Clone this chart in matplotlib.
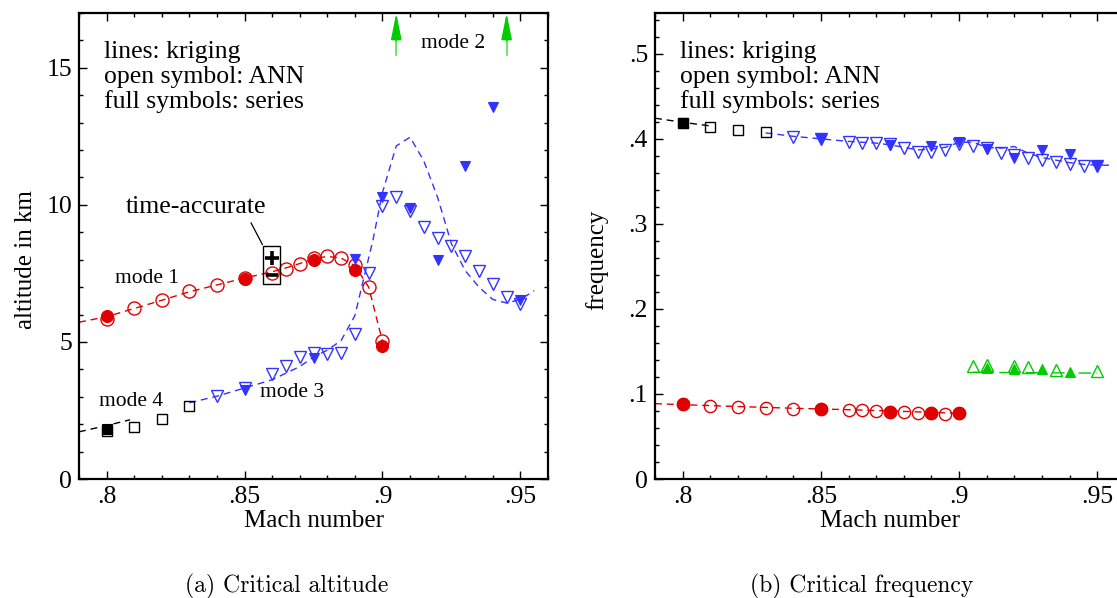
import matplotlib
matplotlib.use("Agg")
import matplotlib.pyplot as plt
from matplotlib.patches import Rectangle
from matplotlib.ticker import FixedLocator, MultipleLocator, FuncFormatter

plt.rcParams['font.family'] = ['Liberation Serif', 'DejaVu Serif']

RED = '#e00000'
BLUE = '#3333ff'
GREEN = '#00cc00'
LGREEN = '#55e055'

# ---------------- altitude (left) ----------------
m1_ann_mach = [.80, .81, .82, .83, .84, .85, .86, .865, .87, .875, .88, .885, .89, .895, .90]
m1_ann_alt = [5.82, 6.22, 6.53, 6.85, 7.08, 7.32, 7.52, 7.67, 7.84, 8.06, 8.15, 8.07, 7.80, 6.99, 5.02]
m1_ser_mach = [.80, .85, .875, .89, .90]
m1_ser_alt = [5.96, 7.30, 8.00, 7.62, 4.84]
m1_krig_mach = [.79, .80, .81, .82, .83, .84, .85, .86, .865, .87, .875, .88, .885, .89, .895, .90]
m1_krig_alt = [5.72, 5.92, 6.22, 6.52, 6.83, 7.08, 7.33, 7.56, 7.70, 7.86, 8.03, 8.12, 8.06, 7.78, 7.00, 5.02]

m3_ann_mach = [.84, .85, .86, .865, .87, .875, .88, .885, .89, .895, .90, .905, .91, .915,
               .92, .925, .93, .935, .94, .945, .95]
m3_ann_alt = [3.02, 3.32, 3.84, 4.13, 4.45, 4.60, 4.57, 4.60, 5.30, 7.53, 9.96, 10.27, 9.78, 9.20,
              8.81, 8.50, 8.12, 7.60, 7.12, 6.65, 6.39]
m3_ser_mach = [.85, .875, .89, .90, .91, .92, .93, .94, .95]
m3_ser_alt = [3.26, 4.42, 8.03, 10.29, 9.88, 8.00, 11.42, 13.56, 6.53]
m3_krig_mach = [.83, .84, .85, .86, .87, .875, .88, .885, .89, .8936, .8965, .90, .905, .91,
                .915, .92, .925, .93, .935, .94, .945, .95, .955]
m3_krig_alt = [2.78, 3.02, 3.32, 3.62, 4.10, 4.45, 4.70, 5.05, 5.96, 7.48, 8.69, 10.45, 12.15, 12.47,
               11.60, 10.27, 8.58, 7.60, 7.00, 6.55, 6.42, 6.55, 6.87]

m4_ann_mach = [.80, .81, .82, .83]
m4_ann_alt = [1.75, 1.88, 2.18, 2.65]
m4_ser_mach = [.80]
m4_ser_alt = [1.84]
m4_krig_mach = [.79, .80, .8085]
m4_krig_alt = [1.72, 1.95, 2.16]

m2_offscale_mach = [.905, .945]   # mode 2 lies above the plotted range

ta_mach = .86          # time-accurate check
ta_plus_alt = 8.06
ta_minus_alt = 7.45

# ---------------- frequency (right) ----------------
f1_ann_mach = [.80, .81, .82, .83, .84, .85, .86, .865, .87, .875, .88, .885, .89, .895, .90]
f1_ann = [.0879, .0859, .0843, .0835, .0824, .0820, .0812, .0808, .0800, .0788, .0784, .0776,
          .0773, .0765, .0773]
f1_ser_mach = [.80, .85, .875, .89, .90]
f1_ser = [.0879, .0820, .0788, .0773, .0773]
f1_krig_mach = [.79, .80, .82, .84, .86, .88, .90]
f1_krig = [.0886, .0874, .0852, .0832, .0815, .0795, .0772]

f2_ann_mach = [.905, .91, .92, .925, .935, .95]
f2_ann = [.1330, .1340, .1330, .1314, .1282, .1270]
f2_ser_mach = [.91, .92, .93, .94]
f2_ser = [.1302, .1294, .1290, .1262]
f2_krig_mach = [.905, .95]
f2_krig = [.1255, .1245]

f3_ann_mach = [.84, .85, .86, .865, .87, .875, .88, .885, .89, .895, .90, .905, .91, .915,
               .92, .925, .93, .935, .94, .945, .95]
f3_ann = [.4027, .3996, .3968, .3957, .3950, .3935, .3890, .3850, .3840, .3870, .3940, .3920,
          .3890, .3831, .3812, .3773, .3753, .3733, .3706, .3686, .3685]
f3_ser_mach = [.85, .875, .89, .90, .91, .92, .93, .94, .95]
f3_ser = [.3996, .3929, .3920, .3968, .3880, .3773, .3870, .3824, .3675]
f3_krig_mach = [.83, .84, .85, .86, .87, .875, .88, .885, .89, .895, .90, .905, .91, .915,
                .92, .925, .93, .935, .94, .945, .95, .955]
f3_krig = [.407, .403, .400, .397, .395, .393, .390, .387, .388, .390, .396, .396, .390, .389,
           .391, .383, .378, .375, .372, .370, .369, .369]

f4_ann_mach = [.80, .81, .82, .83]
f4_ann = [.4185, .4145, .4106, .4075]
f4_ser_mach = [.80]
f4_ser = [.4192]
f4_krig_mach = [.79, .80, .81]
f4_krig = [.4243, .4195, .4152]

mach_ticks = [.8, .85, .9, .95]
alt_ticks = [0, 5, 10, 15]
freq_ticks = [0, .1, .2, .3, .4, .5]

header = ['lines: kriging', 'open symbol: ANN', 'full symbols: series']

DASH = (0, (5, 3.5))


def short(v, pos=None):
    s = f'{v:g}'
    if s.startswith('0.'):
        s = s[1:]
    return s


def style(ax):
    for sp in ax.spines.values():
        sp.set_linewidth(1.6)
    ax.tick_params(which='both', direction='in', top=True, right=True, width=1.0,
                   labelsize=18.5)
    ax.tick_params(which='major', length=6)
    ax.tick_params(which='minor', length=3)
    ax.tick_params(axis='x', pad=5)
    ax.tick_params(axis='y', pad=5)
    ax.xaxis.set_major_locator(FixedLocator(mach_ticks))
    ax.xaxis.set_minor_locator(MultipleLocator(0.01))
    ax.xaxis.set_major_formatter(FuncFormatter(short))
    ax.set_xlim(0.79, 0.96)
    ax.set_xlabel('Mach number', fontsize=18)
    ax.xaxis.set_label_coords(0.5, -0.066)
    for i, t in enumerate(header):
        ax.text(0.053, 0.903 - 0.0537 * i, t, transform=ax.transAxes, fontsize=18.5,
                va='baseline')


def series(ax, mk, mf, ann_x, ann_y, ser_x, ser_y, kx, ky, color, ls=DASH,
           ms_open=9.4, ms_full=8.6):
    ax.plot(kx, ky, ls=ls, color=color, lw=1.0, zorder=2)
    ax.plot(ann_x, ann_y, ls='none', marker=mk, ms=ms_open, mfc='none', mec=color, mew=1.0, zorder=3)
    ax.plot(ser_x, ser_y, ls='none', marker=mf, ms=ms_full, mfc=color, mec=color, mew=0.8, zorder=4)


fig = plt.figure(figsize=(11.17, 5.98), dpi=100)
ax1 = fig.add_axes([79 / 1117, 1 - 479 / 598, 469 / 1117, 466 / 598])
ax2 = fig.add_axes([655 / 1117, 1 - 479 / 598, 470 / 1117, 466 / 598])

# ---- altitude ----
style(ax1)
ax1.set_ylim(0, 17)
ax1.yaxis.set_major_locator(FixedLocator(alt_ticks))
ax1.yaxis.set_minor_locator(MultipleLocator(1))
ax1.yaxis.set_major_formatter(FuncFormatter(short))
ax1.set_ylabel('altitude in km', fontsize=18)
ax1.yaxis.set_label_coords(-0.09, 0.47)

series(ax1, 'o', 'o', m1_ann_mach, m1_ann_alt, m1_ser_mach, m1_ser_alt,
       m1_krig_mach, m1_krig_alt, RED)
series(ax1, 'v', 'v', m3_ann_mach, m3_ann_alt, m3_ser_mach, m3_ser_alt,
       m3_krig_mach, m3_krig_alt, BLUE, ms_open=9.0, ms_full=6.5)
series(ax1, 's', 's', m4_ann_mach, m4_ann_alt, m4_ser_mach, m4_ser_alt,
       m4_krig_mach, m4_krig_alt, 'black', ms_open=6.5, ms_full=6.5)

for m in m2_offscale_mach:
    ax1.plot([m, m], [15.45, 16.2], color=LGREEN, lw=1.2, zorder=3)
    ax1.annotate('', xy=(m, 17), xytext=(m, 16.0),
                 arrowprops=dict(arrowstyle='-|>,head_length=0.8,head_width=0.16',
                                 mutation_scale=20, color=GREEN, lw=1.2,
                                 shrinkA=0, shrinkB=0),
                 annotation_clip=False)

ax1.add_patch(Rectangle((0.8568, 7.13), 0.0062, 1.38, fill=False, ec='black', lw=1.0, zorder=5))
ax1.plot([ta_mach], [ta_plus_alt], marker='+', ms=10, mew=2.6, color='black', zorder=6)
ax1.plot([ta_mach], [ta_minus_alt], marker='_', ms=8, mew=2.6, color='black', zorder=6)
ax1.annotate('time-accurate', xy=(0.8565, 8.55), xytext=(0.8325, 9.72), fontsize=18.5,
             ha='center', va='baseline',
             arrowprops=dict(arrowstyle='-', lw=0.9, color='black', relpos=(0.87, 0.0),
                             shrinkA=2, shrinkB=0))

ax1.text(0.8147, 7.14, 'mode 1', fontsize=15.5, ha='center', va='baseline')
ax1.text(0.9256, 15.72, 'mode 2', fontsize=15.5, ha='center', va='baseline')
ax1.text(0.8671, 2.98, 'mode 3', fontsize=15.5, ha='center', va='baseline')
ax1.text(0.8090, 2.67, 'mode 4', fontsize=15.5, ha='center', va='baseline')

# ---- frequency ----
style(ax2)
ax2.set_ylim(0, 0.548)
ax2.yaxis.set_major_locator(FixedLocator(freq_ticks))
ax2.yaxis.set_minor_locator(MultipleLocator(0.02))
ax2.yaxis.set_major_formatter(FuncFormatter(short))
ax2.set_ylabel('frequency', fontsize=18)
ax2.yaxis.set_label_coords(-0.1, 0.47)

series(ax2, 'o', 'o', f1_ann_mach, f1_ann, f1_ser_mach, f1_ser,
       f1_krig_mach, f1_krig, RED, ms_open=8.8, ms_full=8.8)
series(ax2, '^', '^', f2_ann_mach, f2_ann, f2_ser_mach, f2_ser,
       f2_krig_mach, f2_krig, GREEN, ls=(0, (9, 4, 2, 4)), ms_open=8.4, ms_full=6.5)
series(ax2, 'v', 'v', f3_ann_mach, f3_ann, f3_ser_mach, f3_ser,
       f3_krig_mach, f3_krig, BLUE, ms_open=8.4, ms_full=6.5)
series(ax2, 's', 's', f4_ann_mach, f4_ann, f4_ser_mach, f4_ser,
       f4_krig_mach, f4_krig, 'black', ms_open=6.5, ms_full=6.5)

fig.text(287 / 1117, 1 - 586 / 598, '(a) Critical altitude', family='cmr10', fontsize=17,
         ha='center', va='center')
fig.text(862 / 1117, 1 - 586 / 598, '(b) Critical frequency', family='cmr10', fontsize=17,
         ha='center', va='center')

fig.savefig('out.png', dpi=100)
